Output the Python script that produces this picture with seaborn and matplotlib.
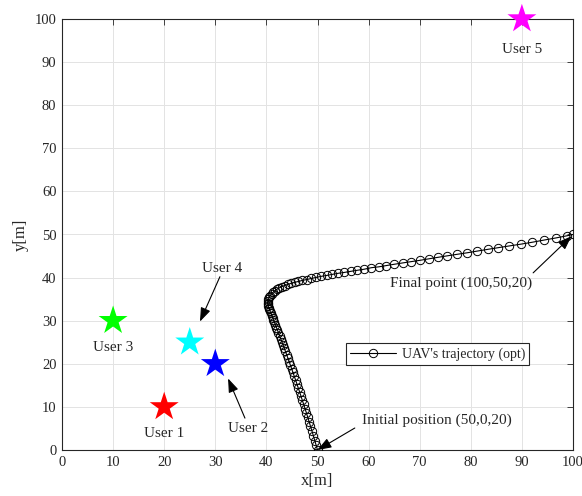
import numpy as np
import pandas as pd
import matplotlib
matplotlib.use('Agg')
import matplotlib.pyplot as plt
import seaborn as sns

# user positions
user_names = ['User 1', 'User 2', 'User 3', 'User 4', 'User 5']
user_x = [20, 30, 10, 25, 90]
user_y = [10, 20, 30, 25, 100]
user_colors = ['#ff0000', '#0000ff', '#00ff00', '#00ffff', '#ff00ff']

# UAV trajectory
traj_x = [50.00, 49.73, 49.46, 49.19, 48.92, 48.63, 48.35, 48.09, 47.83, 47.56,
          47.29, 47.01, 46.74, 46.49, 46.23, 45.98, 45.72, 45.46, 45.19, 44.93,
          44.69, 44.45, 44.21, 43.96, 43.72, 43.47, 43.25, 43.03, 42.81, 42.59,
          42.36, 42.17, 41.97, 41.78, 41.58, 41.38, 41.22, 41.05, 40.89, 40.72,
          40.58, 40.45, 40.35, 40.28,
          40.25, 40.30, 40.40, 40.55, 40.75, 41.00, 41.30, 41.65, 42.05, 42.50,
          43.00, 43.55, 44.15, 44.80, 45.50, 46.25, 47.05, 47.90, 48.80, 49.75,
          50.75, 51.80, 52.90, 54.05, 55.25, 56.50, 57.80, 59.15, 60.55, 62.00,
          63.50, 65.05, 66.65, 68.30, 70.00, 71.75, 73.55, 75.40, 77.30, 79.25,
          81.25, 83.30, 85.40, 87.55, 89.75, 92.00, 94.30, 96.65, 98.80, 100.00]
traj_y = [0.0, 1.1, 2.2, 3.3, 4.4, 5.5, 6.6, 7.6, 8.6, 9.6,
          10.6, 11.6, 12.6, 13.5, 14.4, 15.3, 16.2, 17.1, 18.0, 18.9,
          19.7, 20.5, 21.3, 22.1, 22.9, 23.7, 24.4, 25.1, 25.8, 26.5,
          27.2, 27.8, 28.4, 29.0, 29.6, 30.2, 30.7, 31.2, 31.7, 32.2,
          32.6, 33.0, 33.4, 33.8,
          34.2, 34.6, 35.0, 35.4, 35.8, 36.2, 36.6, 36.95, 37.3, 37.6,
          37.9, 38.15, 38.4, 38.65, 38.9, 39.1, 39.35, 39.55, 39.8, 40.05,
          40.3, 40.5, 40.75, 41.0, 41.2, 41.45, 41.7, 41.95, 42.3, 42.5,
          42.8, 43.1, 43.4, 43.7, 44.0, 44.35, 44.7, 45.05, 45.4, 45.75,
          46.15, 46.55, 46.95, 47.35, 47.75, 48.2, 48.7, 49.2, 49.7, 50.0]

sns.set_style("whitegrid")
plt.rcParams['font.family'] = ['Liberation Serif', 'DejaVu Serif']

fig = plt.figure(figsize=(5.82, 4.96), dpi=100)
ax = fig.add_axes([62/582, 46/496, 511/582, 431/496])

traj = pd.DataFrame({'x': traj_x, 'y': traj_y})
sns.lineplot(data=traj, x='x', y='y', sort=False, estimator=None, ax=ax,
             color='black', lw=0.8, marker='o', markersize=6,
             markerfacecolor='none', markeredgecolor='black', markeredgewidth=0.7,
             label="UAV's trajectory (opt)", zorder=3)

users = pd.DataFrame({'x': user_x, 'y': user_y, 'name': user_names})
sns.scatterplot(data=users, x='x', y='y', hue='name', palette=user_colors,
                marker='*', s=480, linewidth=0, legend=False, ax=ax,
                clip_on=False, zorder=4)

fs = 11
# plain labels
ax.text(20, 3.9, 'User 1', ha='center', va='center', fontsize=fs)
ax.text(10, 23.7, 'User 3', ha='center', va='center', fontsize=fs)
ax.text(90, 93.0, 'User 5', ha='center', va='center', fontsize=fs)

arrow = dict(arrowstyle='-|>,head_length=0.6,head_width=0.22', color='black',
             lw=0.8, mutation_scale=14, shrinkA=0, shrinkB=0)
ax.annotate('', xy=(27.0, 29.8), xytext=(30.9, 40.2), arrowprops=arrow)
ax.text(31.4, 42.2, 'User 4', ha='center', va='center', fontsize=fs)
ax.annotate('', xy=(32.5, 16.6), xytext=(35.8, 7.4), arrowprops=arrow)
ax.text(36.4, 5.1, 'User 2', ha='center', va='center', fontsize=fs)
ax.annotate('', xy=(50.0, 0.0), xytext=(57.3, 5.1), arrowprops=arrow)
ax.text(58.7, 7.0, 'Initial position (50,0,20)', ha='left', va='center', fontsize=fs)
ax.annotate('', xy=(99.7, 49.6), xytext=(92.2, 41.1), arrowprops=arrow)
ax.text(64.2, 38.7, 'Final point (100,50,20)', ha='left', va='center', fontsize=fs)

ax.set_xlim(0, 100)
ax.set_ylim(0, 100)
ax.set_xticks(range(0, 101, 10))
ax.set_yticks(range(0, 101, 10))
ax.set_xlabel('x[m]', fontsize=12, labelpad=3)
ax.set_ylabel('y[m]', fontsize=12, labelpad=4)
ax.tick_params(direction='in', length=4, width=0.6, labelsize=10.5,
               top=True, right=True, colors='#262626', pad=4)
ax.grid(True, color='#e3e3e3', lw=0.7)
for sp in ax.spines.values():
    sp.set_color('#262626')
    sp.set_linewidth(0.8)
ax.set_facecolor('white')

leg = ax.legend(loc='upper left', bbox_to_anchor=(0.556, 0.248), fontsize=10,
                frameon=True, fancybox=False, framealpha=1, edgecolor='#262626',
                handlelength=3.3, borderpad=0.3, borderaxespad=0, handletextpad=0.4)
leg.get_frame().set_linewidth(0.8)

fig.savefig('out.png', dpi=100, facecolor='white')
